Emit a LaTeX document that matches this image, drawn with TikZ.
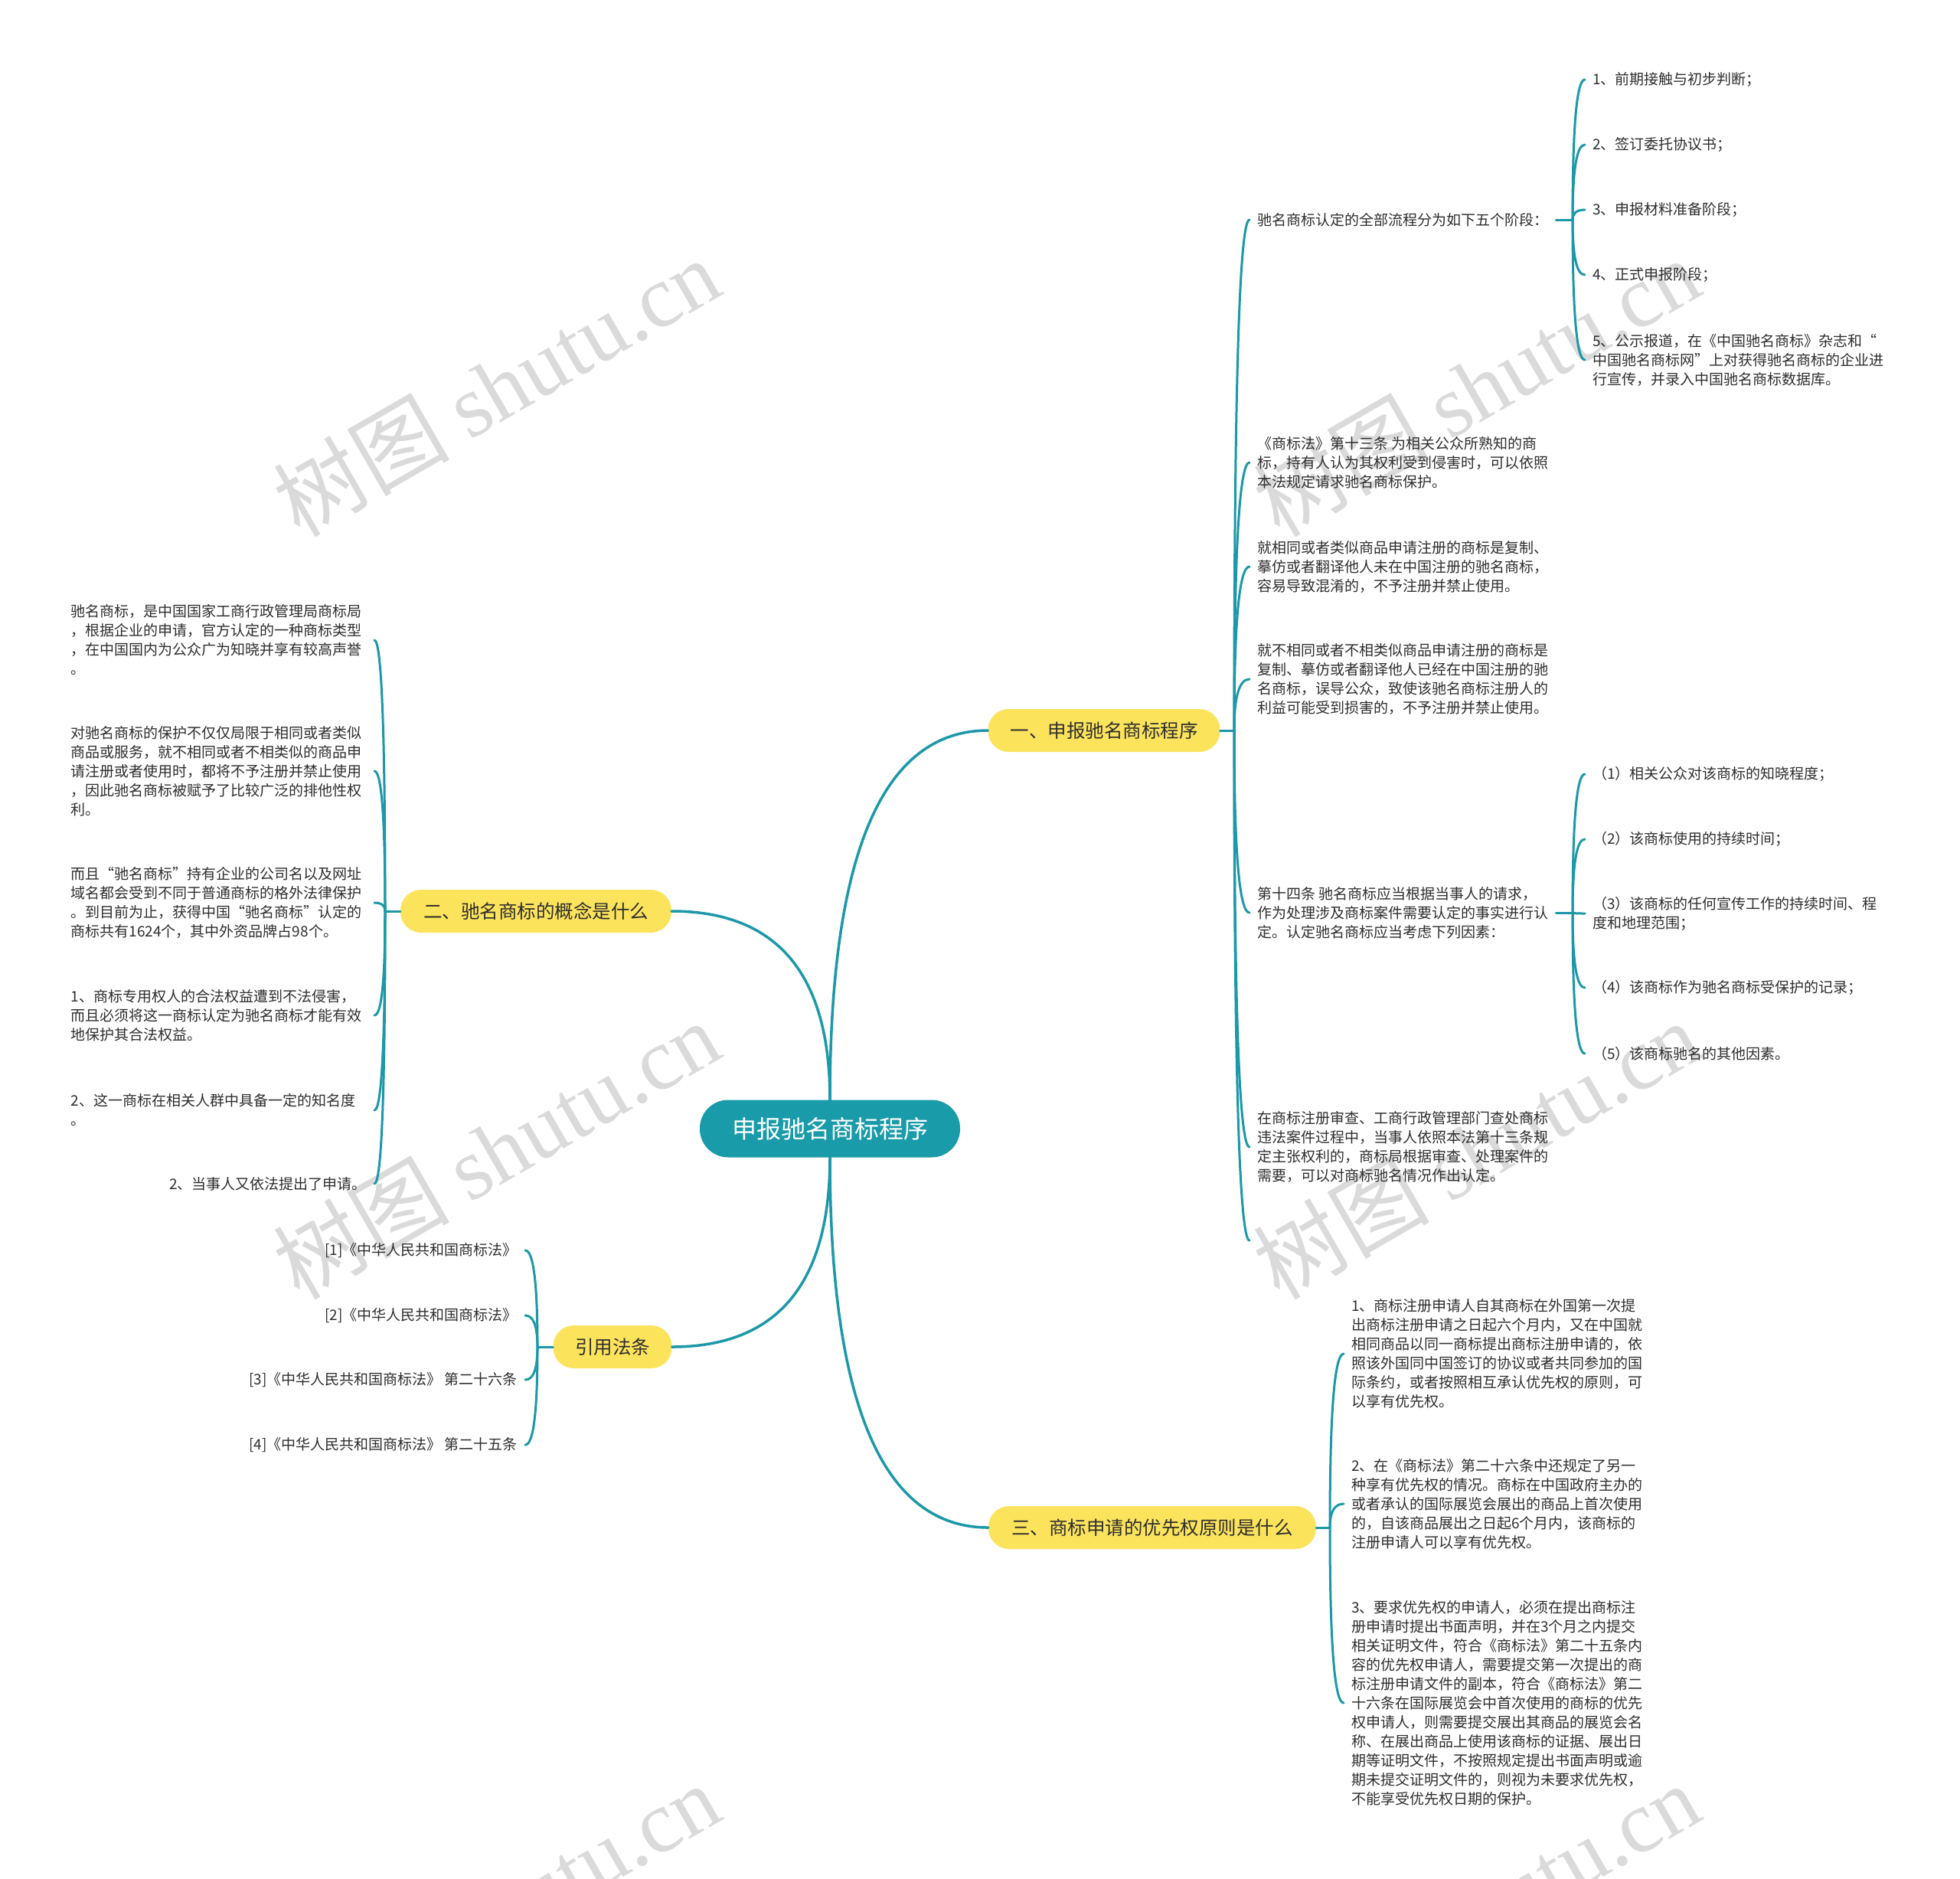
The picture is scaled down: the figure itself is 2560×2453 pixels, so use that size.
\documentclass[tikz,border=0pt]{standalone}
\usepackage{fontspec}
\setmainfont{Noto Sans CJK SC}
\newfontfamily\wmlatin{Liberation Serif}
\usetikzlibrary{calc}
\definecolor{rootfill}{HTML}{1A9BA9}
\definecolor{lineC}{HTML}{1C98A8}
\definecolor{yel}{HTML}{FCE35C}
\definecolor{txt}{HTML}{2E2E2E}
\definecolor{wm}{HTML}{DADADA}
\begin{document}
\begin{tikzpicture}[x=1pt,y=1pt,
  quad/.style={to path={let \p1=(\tikztostart), \p2=(\tikztotarget) in
     .. controls ($(\p1)!0.6667!(\x1,\y2)$) and ($(\p2)!0.6667!(\x1,\y2)$) .. (\tikztotarget)}},
  conn/.style={draw=lineC, line width=3pt, line cap=round},
  mainconn/.style={draw=lineC, line width=3.5pt, line cap=round},
  rootbox/.style={fill=rootfill, text=white, rounded corners=37pt, minimum width=340pt,
     minimum height=75pt, inner sep=0pt, font=\fontsize{32}{36}\selectfont},
  branchbox/.style={fill=yel, text=txt, rounded corners=27pt, minimum height=56pt,
     inner sep=0pt, font=\fontsize{24.5}{28}\selectfont},
  leafR/.style={anchor=west, text=txt, inner xsep=10pt, inner ysep=2pt, align=left,
     font=\fontsize{19}{25}\selectfont},
  leafL/.style={anchor=east, text=txt, inner xsep=10pt, inner ysep=2pt, align=left,
     text width=386pt, font=\fontsize{19}{25}\selectfont},
  leafLR/.style={anchor=east, text=txt, inner xsep=10pt, inner ysep=2pt, align=right,
     font=\fontsize{19}{25}\selectfont},
  wmark/.style={text=wm, rotate=30, inner sep=0pt, font=\fontsize{115}{120}\selectfont}
]
\useasboundingbox[fill=white] (0,0) rectangle (2560,-2453);

% watermarks
\node[wmark] (w1) at (648,-505) {树图 {\wmlatin shutu.cn}};
\node[wmark] (w2) at (1928,-505) {树图 {\wmlatin shutu.cn}};
\node[wmark] (w3) at (648,-1501) {树图 {\wmlatin shutu.cn}};
\node[wmark] (w4) at (1928,-1501) {树图 {\wmlatin shutu.cn}};
\node[wmark] (w5) at (648,-2497) {树图 {\wmlatin shutu.cn}};
\node[wmark] (w6) at (1928,-2497) {树图 {\wmlatin shutu.cn}};

% root and branches
\node[rootbox] (root) at (1084,-1474) {申报驰名商标程序};
\node[branchbox, minimum width=303pt] (b1) at (1442,-954) {一、申报驰名商标程序};
\node[branchbox, minimum width=354pt] (b2) at (700,-1190) {二、驰名商标的概念是什么};
\node[branchbox, minimum width=155pt] (b3) at (800,-1759) {引用法条};
\node[branchbox, minimum width=428pt] (b4) at (1505,-1995) {三、商标申请的优先权原则是什么};

% branch 1 children
\node[leafR] (c1a) at (1632,-287) {驰名商标认定的全部流程分为如下五个阶段：};
\node[leafR] (c1b) at (1632,-604) {《商标法》第十三条 为相关公众所熟知的商\\标，持有人认为其权利受到侵害时，可以依照\\本法规定请求驰名商标保护。};
\node[leafR] (c1c) at (1632,-740) {就相同或者类似商品申请注册的商标是复制、\\摹仿或者翻译他人未在中国注册的驰名商标，\\容易导致混淆的，不予注册并禁止使用。};
\node[leafR] (c1d) at (1632,-887) {就不相同或者不相类似商品申请注册的商标是\\复制、摹仿或者翻译他人已经在中国注册的驰\\名商标，误导公众，致使该驰名商标注册人的\\利益可能受到损害的，不予注册并禁止使用。};
\node[leafR] (c1e) at (1632,-1192) {第十四条 驰名商标应当根据当事人的请求，\\作为处理涉及商标案件需要认定的事实进行认\\定。认定驰名商标应当考虑下列因素：};
\node[leafR] (c1f) at (1632,-1498) {在商标注册审查、工商行政管理部门查处商标\\违法案件过程中，当事人依照本法第十三条规\\定主张权利的，商标局根据审查、处理案件的\\需要，可以对商标驰名情况作出认定。};
\coordinate (c1g) at (1632,-1620);

% c1a children
\node[leafR] (k1) at (2070,-104) {1、前期接触与初步判断；};
\node[leafR] (k2) at (2070,-189) {2、签订委托协议书；};
\node[leafR] (k3) at (2070,-274) {3、申报材料准备阶段；};
\node[leafR] (k4) at (2070,-359) {4、正式申报阶段；};
\node[leafR] (k5) at (2070,-470) {5、公示报道，在《中国驰名商标》杂志和“\\中国驰名商标网”上对获得驰名商标的企业进\\行宣传，并录入中国驰名商标数据库。};

% c1e children
\node[leafR] (e1) at (2070,-1011) {（1）相关公众对该商标的知晓程度；};
\node[leafR] (e2) at (2070,-1096) {（2）该商标使用的持续时间；};
\node[leafR] (e3) at (2070,-1193) {（3）该商标的任何宣传工作的持续时间、程\\度和地理范围；};
\node[leafR] (e4) at (2070,-1290) {（4）该商标作为驰名商标受保护的记录；};
\node[leafR] (e5) at (2070,-1376) {（5）该商标驰名的其他因素。};

% branch 2 children
\node[leafL] (c2a) at (489,-836) {驰名商标，是中国国家工商行政管理局商标局\\，根据企业的申请，官方认定的一种商标类型\\，在中国国内为公众广为知晓并享有较高声誉\\。};
\node[leafL] (c2b) at (489,-1007) {对驰名商标的保护不仅仅局限于相同或者类似\\商品或服务，就不相同或者不相类似的商品申\\请注册或者使用时，都将不予注册并禁止使用\\，因此驰名商标被赋予了比较广泛的排他性权\\利。};
\node[leafL] (c2c) at (489,-1179) {而且“驰名商标”持有企业的公司名以及网址\\域名都会受到不同于普通商标的格外法律保护\\。到目前为止，获得中国“驰名商标”认定的\\商标共有1624个，其中外资品牌占98个。};
\node[leafL] (c2d) at (489,-1326) {1、商标专用权人的合法权益遭到不法侵害，\\而且必须将这一商标认定为驰名商标才能有效\\地保护其合法权益。};
\node[leafL] (c2e) at (489,-1450) {2、这一商标在相关人群中具备一定的知名度\\。};
\node[leafLR] (c2f) at (489,-1546) {2、当事人又依法提出了申请。};

% branch 3 children
\node[leafLR] (l1) at (686,-1633) {[1]《中华人民共和国商标法》};
\node[leafLR] (l2) at (686,-1718) {[2]《中华人民共和国商标法》};
\node[leafLR] (l3) at (686,-1802) {[3]《中华人民共和国商标法》 第二十六条};
\node[leafLR] (l4) at (686,-1887) {[4]《中华人民共和国商标法》 第二十五条};

% branch 4 children
\node[leafR] (c4a) at (1755,-1768) {1、商标注册申请人自其商标在外国第一次提\\出商标注册申请之日起六个月内，又在中国就\\相同商品以同一商标提出商标注册申请的，依\\照该外国同中国签订的协议或者共同参加的国\\际条约，或者按照相互承认优先权的原则，可\\以享有优先权。};
\node[leafR] (c4b) at (1755,-1964) {2、在《商标法》第二十六条中还规定了另一\\种享有优先权的情况。商标在中国政府主办的\\或者承认的国际展览会展出的商品上首次使用\\的，自该商品展出之日起6个月内，该商标的\\注册申请人可以享有优先权。};
\node[leafR] (c4c) at (1755,-2224) {3、要求优先权的申请人，必须在提出商标注\\册申请时提出书面声明，并在3个月之内提交\\相关证明文件，符合《商标法》第二十五条内\\容的优先权申请人，需要提交第一次提出的商\\标注册申请文件的副本，符合《商标法》第二\\十六条在国际展览会中首次使用的商标的优先\\权申请人，则需要提交展出其商品的展览会名\\称、在展出商品上使用该商标的证据、展出日\\期等证明文件，不按照规定提出书面声明或逾\\期未提交证明文件的，则视为未要求优先权，\\不能享受优先权日期的保护。};

% junctions
\coordinate (j1) at (1612,-954);
\coordinate (ja) at (2054,-287);
\coordinate (je) at (2054,-1192);
\coordinate (j2) at (503,-1190);
\coordinate (j3) at (702,-1759);
\coordinate (j4) at (1737,-1995);

% root connectors
\draw[mainconn] (root.north) to[quad] (b1.west);
\draw[mainconn] (root.north) to[quad] (b2.east);
\draw[mainconn] (root.south) to[quad] (b3.east);
\draw[mainconn] (root.south) to[quad] (b4.west);

% branch 1
\draw[conn] (b1.east) -- (j1);
\foreach \c in {c1a,c1b,c1c,c1d,c1e,c1f} \draw[conn] (j1) to[quad] (\c.west);
\draw[conn] (j1) to[quad] (c1g);
\draw[conn] (c1a.east) -- (ja);
\foreach \c in {k1,k2,k3,k4,k5} \draw[conn] (ja) to[quad] (\c.west);
\draw[conn] (c1e.east) -- (je);
\foreach \c in {e1,e2,e3,e4,e5} \draw[conn] (je) to[quad] (\c.west);

% branch 2
\draw[conn] (b2.west) -- (j2);
\foreach \c in {c2a,c2b,c2c,c2d,c2e,c2f} \draw[conn] (j2) to[quad] (\c.east);

% branch 3
\draw[conn] (b3.west) -- (j3);
\foreach \c in {l1,l2,l3,l4} \draw[conn] (j3) to[quad] (\c.east);

% branch 4
\draw[conn] (b4.east) -- (j4);
\foreach \c in {c4a,c4b,c4c} \draw[conn] (j4) to[quad] (\c.west);
\end{tikzpicture}
\end{document}
